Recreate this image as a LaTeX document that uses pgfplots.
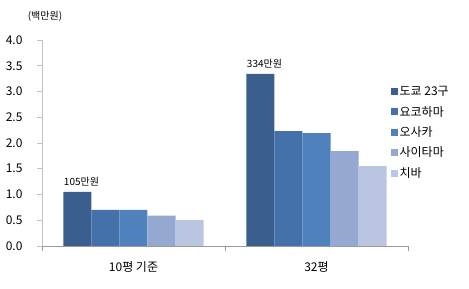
\documentclass[border=0pt]{standalone}
\usepackage{pgfplots}
\pgfplotsset{compat=1.18}
\usepackage{fontspec}
\setmainfont{Noto Sans CJK KR}
\definecolor{c1}{HTML}{3A5F8F}
\definecolor{c2}{HTML}{4571AA}
\definecolor{c3}{HTML}{4F81BD}
\definecolor{c4}{HTML}{94A8D2}
\definecolor{c5}{HTML}{BAC6E1}
\definecolor{axg}{HTML}{9A9A9A}
\begin{document}
\begin{tikzpicture}[x=1pt,y=1pt]
\useasboundingbox (0,0) rectangle (469,289);
\node[font=\fontsize{10}{11}\selectfont] at (45,273) {(백만원)};
\begin{axis}[
  at={(42pt,43pt)}, anchor=south west,
  scale only axis, width=366pt, height=206pt,
  xmin=-0.5, xmax=1.5, ymin=0, ymax=4,
  ybar=0pt, bar width=28pt,
  axis x line*=bottom, axis y line*=left,
  x axis line style={draw=axg, line width=0.8pt, -},
  y axis line style={draw=axg!60, line width=0.6pt, -},
  xtick={0,1}, xticklabels={10평 기준, 32평},
  minor xtick={-0.5,0.5,1.5},
  major x tick style={draw=none},
  minor x tick style={draw=axg, line width=0.6pt},
  minor tick length=5pt,
  ytick={0,0.5,...,4},
  y tick style={draw=axg!60, line width=0.6pt},
  major tick length=5pt, tick align=outside,
  yticklabel style={/pgf/number format/fixed, /pgf/number format/fixed zerofill, /pgf/number format/precision=1},
  /pgf/number format/assume math mode=true,
  tick label style={font=\fontsize{12}{14}\selectfont, text=black},
  yticklabel style={xshift=-11pt},
  xticklabel style={yshift=-7pt},
  legend style={at={(0.952,0.785)}, anchor=north west, draw=none, fill=none,
     font=\fontsize{12}{14}\selectfont, row sep=5pt, inner sep=0pt},
  legend cell align=left,
  legend image code/.code={\fill[#1] (0pt,-3.5pt) rectangle (7pt,3.5pt);},
  clip=false,
]
\addplot[fill=c1, draw=none, point meta=explicit symbolic, nodes near coords,
  nodes near coords style={font=\fontsize{10}{11}\selectfont, text=black, yshift=2pt, xshift=4pt}]
  coordinates {(0,1.05) [105만원] (1,3.34) [334만원]};
\addplot[fill=c2, draw=none] coordinates {(0,0.70) (1,2.23)};
\addplot[fill=c3, draw=none] coordinates {(0,0.70) (1,2.19)};
\addplot[fill=c4, draw=none] coordinates {(0,0.59) (1,1.84)};
\addplot[fill=c5, draw=none] coordinates {(0,0.50) (1,1.55)};
\legend{도쿄 23구, 요코하마, 오사카, 사이타마, 치바}
\end{axis}
\end{tikzpicture}
\end{document}
